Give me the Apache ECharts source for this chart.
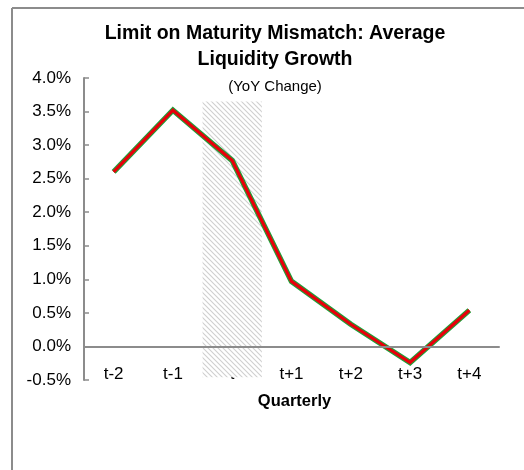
<!DOCTYPE html>
<html>
<head>
<meta charset="utf-8">
<script src="https://cdn.jsdelivr.net/npm/echarts@6/dist/echarts.min.js"></script>
<style>
  html, body { margin: 0; padding: 0; background: #fff; }
  #chart { width: 524px; height: 470px; }
</style>
</head>
<body>
<div id="chart"></div>
<script>
  // data (percent, YoY change)
  var quarters = ['t-2', 't-1', 't', 't+1', 't+2', 't+3', 't+4'];
  var liquidityGrowth = [2.60, 3.52, 2.77, 0.97, 0.33, -0.24, 0.54];
  var shadedQuarter = 't';
  var shadedRange = [-0.46, 3.65];   // bottom / top of hatched band
  var yMin = -0.5, yMax = 4.0, yStep = 0.5;

  // hatch pattern for the shaded quarter
  function makeHatch() {
    var c = document.createElement('canvas');
    var s = 5;
    c.width = s; c.height = s;
    var g = c.getContext('2d');
    g.fillStyle = '#ffffff';
    g.fillRect(0, 0, s, s);
    g.strokeStyle = '#cfcfcf';
    g.lineWidth = 1.1;
    g.beginPath();
    g.moveTo(-1, -1); g.lineTo(s + 1, s + 1);
    g.moveTo(-1, s - 1); g.lineTo(1, s + 1);
    g.moveTo(s - 1, -1); g.lineTo(s + 1, 1);
    g.stroke();
    return c;
  }

  var axisGray = '#8c8c8c';
  var shadeIdx = quarters.indexOf(shadedQuarter);

  var myChart = echarts.init(document.getElementById('chart'));
  myChart.setOption({
    animation: false,
    textStyle: { fontFamily: 'Liberation Sans, Arial, sans-serif' },
    title: {
      text: 'Limit on Maturity Mismatch: Average\nLiquidity Growth',
      subtext: '(YoY Change)',
      left: 275,
      top: 21,
      textAlign: 'center',
      padding: 0,
      itemGap: 6,
      textStyle: { fontSize: 19.5, fontWeight: 'bold', color: '#000', lineHeight: 26 },
      subtextStyle: { fontSize: 15, color: '#000', lineHeight: 16 }
    },
    graphic: [
      { type: 'line', shape: { x1: 12, y1: 8, x2: 524, y2: 8 }, style: { stroke: axisGray, lineWidth: 2 } },
      { type: 'line', shape: { x1: 12, y1: 8, x2: 12, y2: 470 }, style: { stroke: axisGray, lineWidth: 2 } }
    ],
    grid: { left: 84, right: 25, top: 78, bottom: 90 },
    xAxis: [
      { // zero line with ticks
        type: 'category',
        data: quarters,
        z: 5,
        axisLine: { onZero: true, lineStyle: { color: axisGray, width: 2 } },
        axisTick: { inside: true, length: 5, lineStyle: { color: axisGray, width: 1.5 } },
        axisLabel: { show: false },
        splitLine: { show: false }
      },
      { // labels at the bottom
        type: 'category',
        data: quarters,
        position: 'bottom',
        z: 0,
        axisLine: { show: false, onZero: false },
        axisTick: { show: false },
        axisLabel: { margin: -15, fontSize: 17, color: '#000', lineHeight: 19 },
        name: 'Quarterly',
        nameLocation: 'middle',
        nameGap: 13,
        nameTextStyle: { fontSize: 16.5, fontWeight: 'bold', color: '#000', padding: [0, 0, 0, 6] }
      },
      { // helper axis for the hatched band
        type: 'value',
        min: 0,
        max: quarters.length,
        show: false
      }
    ],
    yAxis: {
      type: 'value',
      min: yMin,
      max: yMax,
      interval: yStep,
      axisLine: { show: true, lineStyle: { color: axisGray, width: 2 } },
      axisTick: { show: true, inside: true, length: 5, lineStyle: { color: axisGray, width: 1.5 } },
      axisLabel: {
        margin: 13,
        fontSize: 17,
        color: '#000',
        formatter: function (v) { return v.toFixed(1) + '%'; }
      },
      splitLine: { show: false }
    },
    series: [
      {
        type: 'line',
        xAxisIndex: 2,
        data: [],
        z: 1,
        silent: true,
        markArea: {
          silent: true,
          itemStyle: { color: { image: makeHatch(), repeat: 'repeat' } },
          data: [[
            { xAxis: shadeIdx, yAxis: shadedRange[0] },
            { xAxis: shadeIdx + 1, yAxis: shadedRange[1] }
          ]]
        }
      },
      {
        name: 'outline',
        type: 'line',
        xAxisIndex: 0,
        data: liquidityGrowth,
        z: 3,
        symbol: 'none',
        lineStyle: { color: '#1fa03a', width: 5.5, join: 'miter' }
      },
      {
        name: 'Average liquidity growth',
        type: 'line',
        xAxisIndex: 0,
        data: liquidityGrowth,
        z: 4,
        symbol: 'none',
        lineStyle: { color: '#e8000b', width: 3.2, join: 'miter' }
      }
    ]
  });
</script>
</body>
</html>
